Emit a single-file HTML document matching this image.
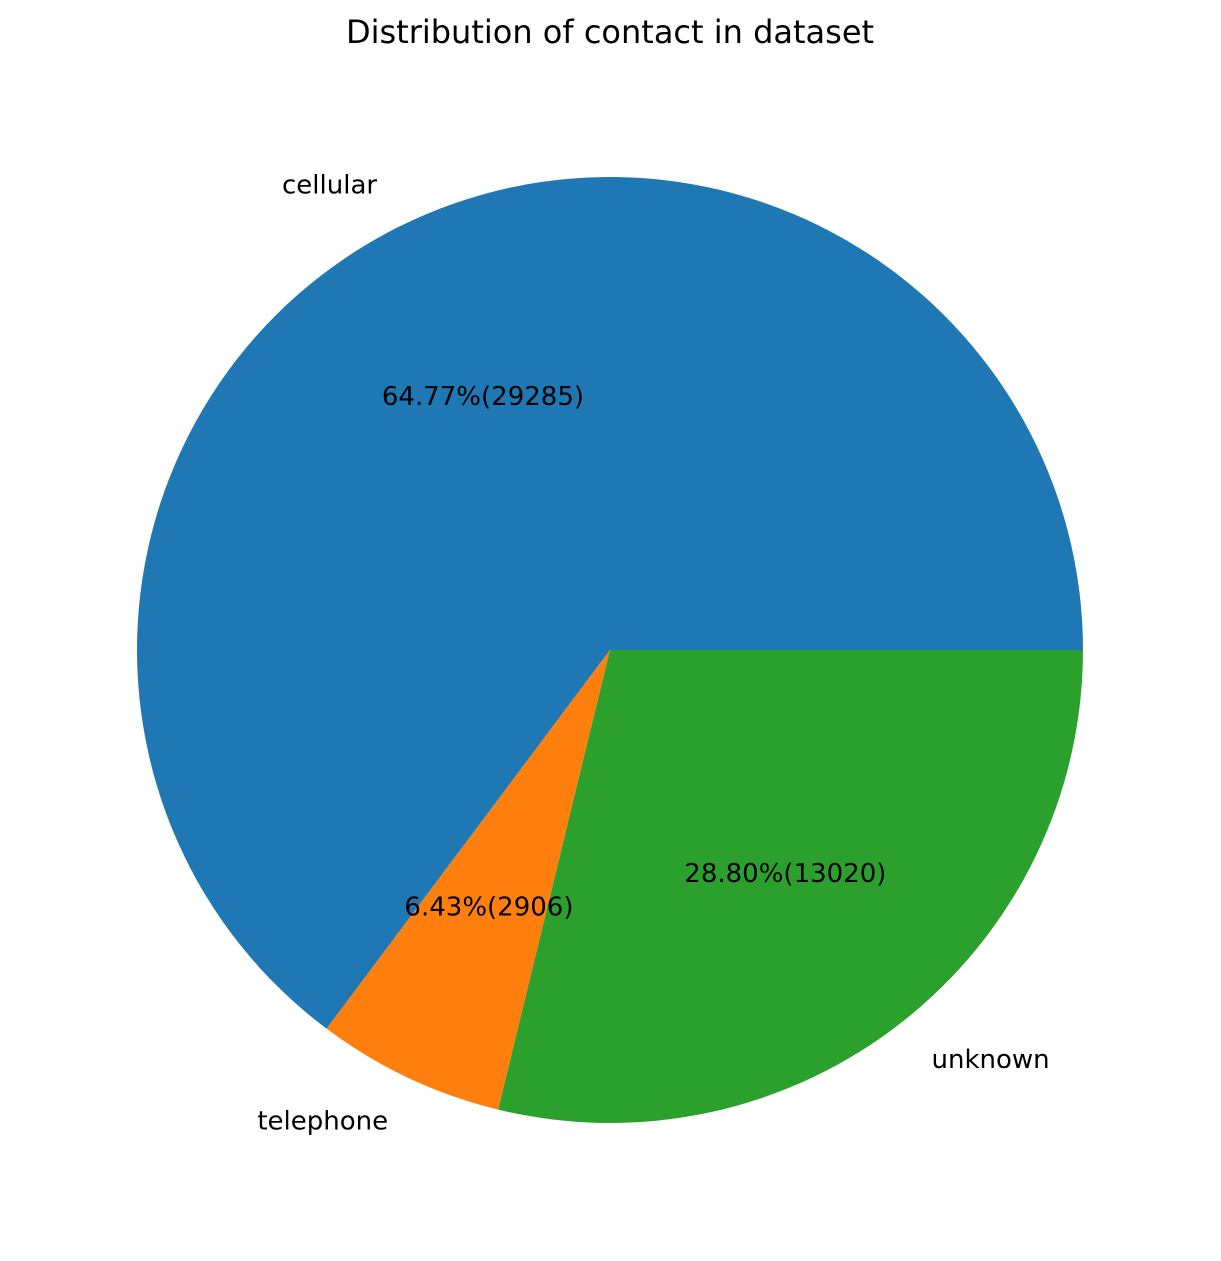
<!DOCTYPE html>
<html><head><meta charset="utf-8"><style>
html,body{margin:0;padding:0;background:#fff;}
svg{display:block;font-family:"DejaVu Sans","Liberation Sans",sans-serif;}
</style></head><body>
<svg id="chart" width="1221" height="1261" viewBox="0 0 1221 1261">
<text x="610" y="43" text-anchor="middle" font-size="32" fill="#000">Distribution of contact in dataset</text>
<g id="slices"></g>
<g id="labels"></g>
</svg>
<script>
const categories = ["cellular", "telephone", "unknown"];
const counts = [29285, 2906, 13020];
const colors = ["#1f77b4", "#ff7f0e", "#2ca02c"];
const cx = 610, cy = 650, R = 473;
const total = counts.reduce((a,b)=>a+b,0);
const ns = "http://www.w3.org/2000/svg";
const gS = document.getElementById('slices'), gL = document.getElementById('labels');
function pt(angDeg, r){const a=angDeg*Math.PI/180;return [cx+r*Math.cos(a), cy-r*Math.sin(a)];}
let start = 0;
counts.forEach((v,i)=>{
  const frac = v/total, sweep = frac*360, end = start+sweep;
  const [x1,y1]=pt(start,R),[x2,y2]=pt(end,R);
  const p=document.createElementNS(ns,'path');
  p.setAttribute('d',`M${cx},${cy} L${x1},${y1} A${R},${R} 0 ${sweep>180?1:0} 0 ${x2},${y2} Z`);
  p.setAttribute('fill',colors[i]);
  
  
  gS.appendChild(p);
  const mid=(start+end)/2;
  const [lx,ly]=pt(mid,R*1.1);
  const t=document.createElementNS(ns,'text');
  t.setAttribute('x',lx);t.setAttribute('y',ly+9);t.setAttribute('font-size','26');
  t.setAttribute('text-anchor', Math.cos(mid*Math.PI/180)<0?'end':'start');
  t.textContent=categories[i];
  
  
  gL.appendChild(t);
  const [px,py]=pt(mid,R*0.6);
  const t2=document.createElementNS(ns,'text');
  t2.setAttribute('x',px);t2.setAttribute('y',py+9);t2.setAttribute('font-size','26');
  t2.setAttribute('text-anchor','middle');
  t2.textContent=(frac*100).toFixed(2)+'%('+v+')';
  
  
  gL.appendChild(t2);
  start=end;
});
</script>
</body></html>
